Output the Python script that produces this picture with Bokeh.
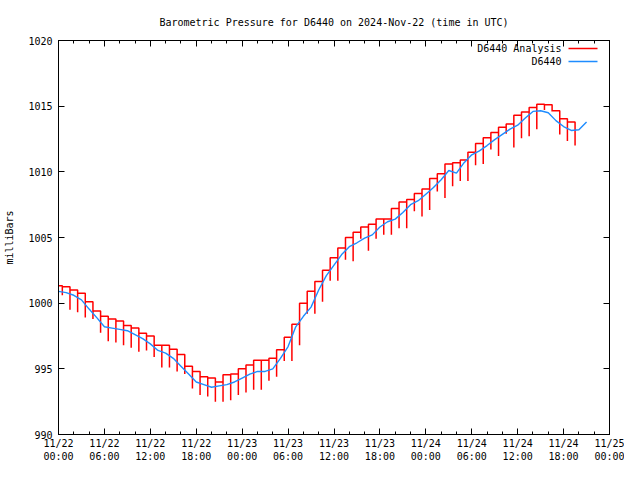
from bokeh.plotting import figure
from bokeh.models import FixedTicker, LinearAxis, Range1d, Label, BoxAnnotation
from bokeh.embed import file_html
from bokeh.resources import INLINE

# ---------------- data (hours since 2024-11-22 00:00 UTC) ----------------
station_hours = list(range(70))
station_pressure = [
    1000.9, 1000.8, 1000.6, 1000.25, 999.55, 998.9, 998.2, 998.1, 998.0, 997.9,
    997.6, 997.3, 996.9, 996.4, 996.2, 995.8, 995.2, 994.6, 994.0, 993.8,
    993.6, 993.7, 993.8, 994.0, 994.3, 994.6, 994.8, 994.8, 995.0, 995.8,
    996.7, 998.2, 999.0, 999.7, 1001.0, 1002.1, 1002.9, 1003.7, 1004.3, 1004.6,
    1004.95, 1005.2, 1005.8, 1006.2, 1006.4, 1006.9, 1007.5, 1007.8, 1008.3, 1008.8,
    1009.4, 1010.1, 1009.9, 1010.7, 1011.3, 1011.6, 1012.0, 1012.45, 1012.85, 1013.25,
    1013.55, 1014.1, 1014.6, 1014.65, 1014.5, 1013.9, 1013.45, 1013.15, 1013.2, 1013.8,
]

analysis_hours = list(range(68))
analysis_level = [
    1001.33, 1001.25, 1001.0, 1000.75, 1000.1, 999.4, 999.0, 998.8, 998.65, 998.3,
    998.1, 997.7, 997.5, 996.8, 996.8, 996.5, 996.1, 995.2, 994.8, 994.4,
    994.3, 994.0, 994.55, 994.6, 995.0, 995.3, 995.65, 995.65, 995.8, 996.45,
    997.4, 998.4, 1000.0, 1000.9, 1001.65, 1002.5, 1003.45, 1004.2, 1005.0, 1005.4,
    1005.8, 1006.0, 1006.4, 1006.4, 1007.2, 1007.7, 1007.9, 1008.35, 1008.7, 1009.5,
    1009.85, 1010.6, 1010.7, 1010.9, 1011.5, 1012.15, 1012.6, 1013.0, 1013.4, 1013.65,
    1014.3, 1014.55, 1014.9, 1015.15, 1015.1, 1014.65, 1014.05, 1013.8,
]
analysis_dip = [
    1000.6, 999.5, 999.3, 998.9, 998.8, 997.75, 997.1, 997.0, 996.8, 996.6,
    996.3, 996.4, 995.9, 995.1, 995.1, 994.8, 994.6, 993.5, 993.0, 992.9,
    992.5, 992.5, 992.6, 993.0, 993.2, 993.4, 993.4, 994.1, 994.4, 995.6,
    995.6, 996.8, 999.2, 999.2, 1000.1, 1001.7, 1001.7, 1003.3, 1003.2, 1004.9,
    1004.0, 1004.9, 1005.2, 1005.2, 1005.7, 1005.7, 1007.0, 1006.6, 1007.1, 1008.5,
    1008.0, 1008.9, 1009.3, 1009.3, 1010.5, 1010.6, 1011.7, 1011.2, 1012.9, 1011.85,
    1012.55, 1012.7, 1013.25, 1014.7, 1014.6, 1012.85, 1012.35, 1012.0,
]

x_tick_hours = [0, 6, 12, 18, 24, 30, 36, 42, 48, 54, 60, 66, 72]
x_tick_labels = [
    "11/22\n00:00", "11/22\n06:00", "11/22\n12:00", "11/22\n18:00",
    "11/23\n00:00", "11/23\n06:00", "11/23\n12:00", "11/23\n18:00",
    "11/24\n00:00", "11/24\n06:00", "11/24\n12:00", "11/24\n18:00",
    "11/25\n00:00",
]
x_minor_hours = list(range(0, 73, 2))
y_ticks = [990, 995, 1000, 1005, 1010, 1015, 1020]

# --------- build the analysis step path (hourly blocks with a dip at each change) ---------
red_t, red_v = [], []
for k, h in enumerate(analysis_hours):
    start = max(0.0, h - 0.5)
    end = h + 0.5
    red_t += [start, end, end]
    red_v += [analysis_level[k], analysis_level[k], analysis_dip[k]]

FONT = "DejaVu Sans Mono"
FS = "10px"
W, H = 624, 464
BL, BR, BT, BB = 58, 15, 40, 28

p = figure(width=W, height=H, output_backend="svg", toolbar_location=None,
           x_range=Range1d(0, 72), y_range=Range1d(990, 1020),
           min_border_left=BL, min_border_right=BR, min_border_top=BT, min_border_bottom=BB,
           title="Barometric Pressure for D6440 on 2024-Nov-22 (time in UTC)")
p.xgrid.visible = False
p.ygrid.visible = False
p.outline_line_color = "black"
p.outline_line_width = 1
p.background_fill_color = "white"
p.border_fill_color = "white"

p.title.text_font = FONT
p.title.text_font_size = FS
p.title.text_font_style = "normal"
p.title.align = "center"
p.title.text_color = "black"
p.title.standoff = 26

xt = FixedTicker(ticks=x_tick_hours, minor_ticks=x_minor_hours)
yt = FixedTicker(ticks=y_ticks, minor_ticks=[])

xa = p.xaxis[0]
xa.ticker = xt
xa.major_label_overrides = {h: lab for h, lab in zip(x_tick_hours, x_tick_labels)}
ya = p.yaxis[0]
ya.ticker = yt
ya.axis_label = "milliBars"
ya.axis_label_text_font = FONT
ya.axis_label_text_font_size = FS
ya.axis_label_text_font_style = "normal"
ya.axis_label_text_color = "black"
ya.axis_label_standoff = 10

top_axis = LinearAxis(ticker=xt, major_label_text_font_size="1px", major_label_text_color=None)
right_axis = LinearAxis(ticker=yt, major_label_text_font_size="1px", major_label_text_color=None)
p.add_layout(top_axis, "above")
p.add_layout(right_axis, "right")

for ax in (xa, ya, top_axis, right_axis):
    ax.axis_line_color = "black"
    ax.major_tick_line_color = "black"
    ax.minor_tick_line_color = "black"
    ax.major_tick_in = 6
    ax.major_tick_out = 0
    ax.minor_tick_in = 3
    ax.minor_tick_out = 0
    ax.major_label_text_font = FONT
for ax in (xa, ya):
    ax.major_label_text_font_size = FS
    ax.major_label_text_color = "black"
xa.major_label_standoff = 3
ya.major_label_standoff = 6
for ax in (top_axis, right_axis):
    ax.major_label_standoff = 0

RED = "#ff0000"
BLUE = "#1e8cff"
p.line(red_t, red_v, line_color=RED, line_width=1.5)
p.line(station_hours, station_pressure, line_color=BLUE, line_width=1.4)

# gnuplot-style key: text right-aligned, line sample on the right
fw = W - BL - BR
fh = H - BT - BB
keys = [("D6440 Analysis", RED, 10), ("D6440", BLUE, 23)]
for text, col, dy in keys:
    p.add_layout(Label(x=fw - 48, y=fh - dy, x_units="screen", y_units="screen",
                       text=text, text_align="right", text_baseline="middle",
                       text_font=FONT, text_font_size=FS, text_color="black"))
    p.add_layout(BoxAnnotation(left=fw - 41, right=fw - 12, bottom=fh - dy - 0.8, top=fh - dy + 0.8,
                               left_units="screen", right_units="screen",
                               bottom_units="screen", top_units="screen",
                               fill_color=col, fill_alpha=1.0, line_color=None))

open("out.html", "w").write(file_html(p, INLINE))
